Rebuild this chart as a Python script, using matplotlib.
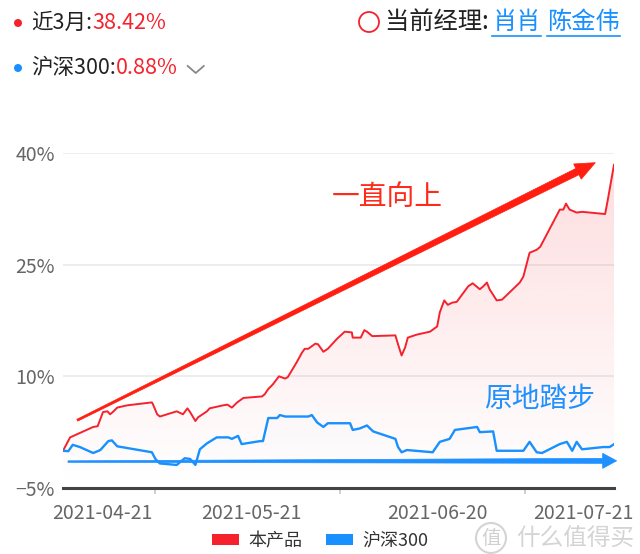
import matplotlib
matplotlib.use("Agg")
import matplotlib.pyplot as plt
import numpy as np
from matplotlib.patches import Polygon, Circle, Patch
from matplotlib.lines import Line2D
from matplotlib.transforms import IdentityTransform

plt.rcParams['font.family'] = ['Noto Sans CJK SC', 'DejaVu Sans']
plt.rcParams['axes.unicode_minus'] = True

# ---------------- data (trading-day index, cumulative return %) ----------------
fund_x = [0, 0.8, 3.4, 3.9, 4.5, 5.0, 5.3, 5.6, 6.1, 7.2, 10.0, 10.1, 10.6, 10.9,
          12.8, 13.5, 14.0, 14.3, 14.9, 15.2, 16.2, 16.5, 18.0, 18.5, 19.0, 19.6,
          20.3, 22.4, 22.7, 23.1, 23.6, 24.3, 25.0, 25.3, 26.3, 26.9, 27.2, 27.6,
          28.4, 28.7, 29.3, 29.8, 30.8, 31.7, 32.5, 32.6, 33.5, 33.9, 34.2, 34.8,
          37.4, 37.7, 38.1, 38.5, 38.8, 39.8, 41.3, 42.1, 42.4, 42.9, 43.3, 43.8,
          44.3, 45.6, 46.1, 46.9, 47.3, 47.7, 48.0, 48.8, 49.4, 51.4, 51.8, 52.5,
          53.3, 53.7, 55.9, 56.3, 56.6, 57.0, 57.8, 58.4, 61.0, 61.3, 62.0]
fund_y = [0.0, 1.8, 3.2, 3.3, 5.2, 5.3, 4.9, 5.2, 5.8, 6.1, 6.5, 6.3, 4.9, 4.6,
          5.3, 4.9, 5.7, 5.2, 4.0, 4.5, 5.3, 5.7, 6.1, 6.2, 5.8, 6.5,
          7.1, 7.3, 7.6, 8.3, 8.9, 10.0, 9.7, 9.9, 11.9, 13.2, 13.7, 13.7,
          14.4, 14.3, 13.3, 13.7, 15.0, 16.0, 15.9, 15.2, 15.2, 16.2, 16.0, 15.4,
          15.5, 14.3, 12.8, 13.9, 15.2, 15.6, 16.0, 16.7, 18.6, 20.2, 19.6, 19.9,
          20.0, 22.1, 22.5, 21.7, 22.1, 22.6, 21.7, 20.2, 20.3, 22.6, 23.4, 26.6,
          27.0, 27.4, 32.4, 32.4, 33.2, 32.4, 32.0, 32.1, 31.8, 33.7, 38.42]

hs300_x = [0, 0.6, 1.1, 1.9, 3.4, 4.2, 5.1, 5.5, 6.1, 10.0, 10.4, 10.9, 12.8,
           13.7, 14.3, 14.9, 15.4, 16.2, 17.3, 18.6, 19.0, 19.7, 20.1, 22.2,
           22.5, 23.1, 24.1, 24.4, 25.0, 27.6, 28.0, 28.6, 29.3, 29.8, 32.3,
           32.6, 33.4, 34.2, 34.9, 37.4, 37.7, 38.1, 38.7, 41.6, 42.4, 43.5,
           44.1, 46.6, 46.9, 48.4, 48.8, 51.8, 52.5, 53.3, 53.9, 55.9, 56.7,
           57.3, 57.8, 58.4, 60.8, 61.5, 62.0]
hs300_y = [0.0, -0.05, 0.8, 0.5, -0.3, 0.1, 1.3, 1.4, 0.6, -0.2, -1.1, -1.7, -1.9,
           -1.0, -1.1, -1.9, 0.2, 1.0, 1.8, 1.8, 1.6, 2.0, 0.9, 1.3,
           1.3, 4.4, 4.4, 4.8, 4.6, 4.6, 4.8, 3.8, 3.2, 3.7, 3.7,
           2.8, 3.0, 3.4, 2.6, 1.6, 0.5, -0.2, 0.1, -0.2, 1.2, 1.6,
           2.8, 3.2, 2.5, 2.6, 0.0, 0.0, 1.2, -0.2, -0.3, 0.9, 1.2,
           0.0, 1.2, 0.2, 0.5, 0.5, 0.88]

y_ticks = [-5, 10, 25, 40]
x_tick_labels = ['2021-04-21', '2021-05-21', '2021-06-20', '2021-07-21']
series_names = ['本产品', '沪深300']
fund_period_label = '近3月:'
fund_return_text = '38.42%'
hs300_label = '沪深300:'
hs300_return_text = '0.88%'
manager_label = '当前经理: '
managers = ['肖肖', '陈金伟']
note_up = '一直向上'
note_flat = '原地踏步'

RED = '#F5222D'
BLUE = '#1890FF'
ARROW_RED = '#FF1E10'

# ---------------- figure & axes ----------------
W, H = 640, 554
fig = plt.figure(figsize=(W / 100, H / 100), dpi=100)
fig.patch.set_facecolor('white')
ax = fig.add_axes([63 / W, (H - 488) / H, (614 - 63) / W, (488 - 153) / H])
XMIN, XMAX, YMIN, YMAX = 0, 62, -5, 40


def grad_fill(x, y, rgb, a_top, a_bot, z):
    verts = [(x[0], YMIN)] + list(zip(x, y)) + [(x[-1], YMIN)]
    poly = Polygon(verts, closed=True, facecolor='none', edgecolor='none')
    ax.add_patch(poly)
    n = 256
    img = np.zeros((n, 2, 4))
    img[:, :, :3] = matplotlib.colors.to_rgb(rgb)
    img[:, :, 3] = np.linspace(a_top, a_bot, n)[:, None]
    im = ax.imshow(img, extent=[XMIN, XMAX, YMIN, YMAX], origin='upper',
                   aspect='auto', zorder=z, interpolation='bilinear')
    im.set_clip_path(poly)


grad_fill(fund_x, fund_y, RED, 0.16, 0.0, 1)
grad_fill(hs300_x, hs300_y, BLUE, 0.06, 0.0, 1.5)

ax.plot(fund_x, fund_y, color=RED, lw=1.4, zorder=3, solid_joinstyle='round')
ax.plot(hs300_x, hs300_y, color=BLUE, lw=1.7, zorder=3, solid_joinstyle='round')

ax.set_xlim(XMIN, XMAX)
ax.set_ylim(YMIN, YMAX)
ax.set_yticks(y_ticks)
ax.set_yticklabels([f'{v}%'.replace('-', '\u2212') for v in y_ticks])
ax.grid(axis='y', color='#ececec', lw=1.3, zorder=0)
ax.set_axisbelow(True)
for s in ['top', 'right', 'left']:
    ax.spines[s].set_visible(False)
ax.spines['bottom'].set_color('#444444')
ax.spines['bottom'].set_linewidth(2.2)
ax.spines['bottom'].set_zorder(5)
ax.tick_params(axis='y', length=0, pad=6, labelsize=14, labelcolor='#666666')

label_pos = [4.4, 21.2, 42.1, 58.5]
ax.set_xticks(label_pos)
ax.set_xticklabels(x_tick_labels)
ax.tick_params(axis='x', which='major', length=0, pad=11, labelsize=14,
               labelcolor='#666666')
ax.set_xticks([10.35, 31.17, 51.98], minor=True)
ax.tick_params(axis='x', which='minor', length=4, width=1.2, color='#c8c8c8')


# ---------------- hand-drawn style arrows ----------------
def taper_arrow(p0, p1, w0, w1, hw, hl, color, z):
    T = ax.transData
    a = np.array(T.transform(p0))
    b = np.array(T.transform(p1))
    d = b - a
    L = np.hypot(*d)
    u = d / L
    n = np.array([-u[1], u[0]])
    base = b - u * hl
    pts = [a + n * w0 / 2, base + n * w1 / 2, base + n * hw / 2, b,
           base - n * hw / 2, base - n * w1 / 2, a - n * w0 / 2]
    poly = Polygon(pts, closed=True, facecolor=color, edgecolor=color, lw=0.5,
                   transform=IdentityTransform(), zorder=z)
    fig.add_artist(poly)


taper_arrow((1.6, 4.1), (59.9, 38.7), 2.0, 7.0, 17, 20, ARROW_RED, 6)
taper_arrow((0.56, -1.45), (62.3, -1.35), 1.5, 5.0, 15, 14, '#1E90FF', 6)

ax.text(36.5, 34.1, note_up, color='#FF2A1A', fontsize=20, ha='center',
        va='center', zorder=7)
ax.text(53.6, 6.9, note_flat, color='#1E90FF', fontsize=20, ha='center',
        va='center', zorder=7)

# ---------------- header ----------------
renderer = fig.canvas.get_renderer()


def ftext(x_px, y_px, s, color, size=15.5, **kw):
    t = fig.text(x_px / W, 1 - y_px / H, s, color=color, fontsize=size,
                 ha='left', va='center', **kw)
    bb = t.get_window_extent(renderer=renderer)
    return t, bb


fig.add_artist(Circle((18, H - 23), 4, transform=IdentityTransform(),
                      facecolor=RED, edgecolor='none'))
fig.add_artist(Circle((18, H - 68), 4, transform=IdentityTransform(),
                      facecolor=BLUE, edgecolor='none'))
_, bb = ftext(31, 23, fund_period_label, '#222222')
ftext(bb.x1, 23, fund_return_text, RED)
_, bb = ftext(31, 68, hs300_label, '#222222')
_, bb2 = ftext(bb.x1, 68, hs300_return_text, RED)
cx = bb2.x1 + 18
fig.add_artist(Line2D([cx - 8, cx, cx + 8], [H - 66, H - 73, H - 66],
                      transform=IdentityTransform(), color='#888888', lw=1.3))

fig.add_artist(Circle((369, H - 22), 10, transform=IdentityTransform(),
                      facecolor='none', edgecolor=RED, lw=1.3))
_, bb = ftext(385, 22, manager_label, '#222222', size=17.5)
xx = bb.x1 - 2
for name in managers:
    _, nb = ftext(xx, 22, name, BLUE, size=17.5)
    fig.add_artist(Line2D([nb.x0, nb.x1], [H - 36, H - 36],
                          transform=IdentityTransform(), color=BLUE, lw=1.2))
    xx = nb.x1 + 6

# ---------------- legend ----------------
handles = [Patch(facecolor=RED, edgecolor='none'),
           Patch(facecolor=BLUE, edgecolor='none')]
fig.legend(handles, series_names, loc='center', bbox_to_anchor=(0.5, 1 - 541 / H),
           ncol=2, frameon=False, fontsize=13, handlelength=1.5, handleheight=0.5,
           handletextpad=0.5, columnspacing=1.3, labelcolor='#333333')

# ---------------- watermark ----------------
fig.add_artist(Circle((491, H - 538), 15, transform=IdentityTransform(),
                      facecolor=(1, 1, 1, 0.75), edgecolor='#d4d4d4', lw=1.5, zorder=8))
fig.text(491 / W, 1 - 538 / H, '值', color='#d0d0d0', fontsize=14,
         ha='center', va='center', zorder=9)
fig.text(516 / W, 1 - 539 / H, '什么值得买', color='#d4d4d4', fontsize=17,
         ha='left', va='center', zorder=9)

fig.savefig('out.png', dpi=100)
